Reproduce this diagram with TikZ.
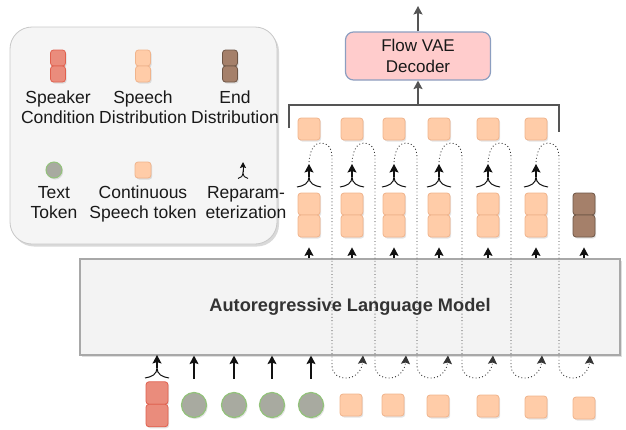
\documentclass[tikz,border=0pt]{standalone}
\usepackage{fontspec}
\setmainfont{Liberation Sans}
\usetikzlibrary{arrows.meta,shadows,calc}
\definecolor{tokfill}{HTML}{FFCCA8}
\definecolor{tokdraw}{HTML}{F0B48C}
\definecolor{spkfill}{HTML}{EA8C7C}
\definecolor{spkdraw}{HTML}{E0604E}
\definecolor{endfill}{HTML}{A5806A}
\definecolor{enddraw}{HTML}{6E5646}
\definecolor{txtfill}{HTML}{A8AAA0}
\definecolor{txtdraw}{HTML}{92C27A}
\definecolor{vaefill}{HTML}{FFCCCC}
\definecolor{vaedraw}{HTML}{8C9EC0}
\definecolor{lmfill}{HTML}{F3F3F3}
\definecolor{lmdraw}{HTML}{A8A8A8}
\definecolor{legfill}{HTML}{F5F5F5}
\definecolor{legdraw}{HTML}{C8C8C8}
\definecolor{ink}{HTML}{111111}
\definecolor{brkcol}{HTML}{555555}
\tikzset{
  shad/.style={drop shadow={opacity=0.22,shadow xshift=1.2pt,shadow yshift=-1.5pt}},
  tokbase/.style={line width=0.8pt, rounded corners=3pt, inner sep=0pt, shad},
  tok/.style={tokbase, draw=tokdraw, fill=tokfill, minimum width=22pt, minimum height=22pt},
  spk/.style={tokbase, draw=spkdraw, fill=spkfill, minimum width=22pt, minimum height=22.5pt},
  enddist/.style={tokbase, draw=enddraw, fill=endfill, minimum width=22pt, minimum height=22pt},
  txttok/.style={circle, draw=txtdraw, fill=txtfill, line width=1.2pt, minimum size=25pt, inner sep=0pt, shad},
  arr/.style={-{Stealth[length=8.5pt,width=9pt,inset=1.5pt]}, line width=1.1pt, draw=ink},
  grayarr/.style={-{Stealth[length=8.5pt,width=9pt,inset=1.5pt]}, line width=1.5pt, draw=brkcol},
  dotarr/.style={-{Stealth[length=8.5pt,width=9pt,inset=1.5pt]}, line width=0.9pt, draw=ink!85, dash pattern=on 0.9pt off 2.4pt},
  lbl/.style={font=\fontsize{17.5}{20}\selectfont, align=center, inner sep=0pt, text=black!90},
  reparam/.pic={
    \draw[line width=1pt, draw=ink] (-12,0) .. controls (-5,-1) and (0,-4) .. (0,-10)
          .. controls (0,-4) and (5,-1) .. (12,0);
    \draw[arr] (0,-10) -- (0,-23);
  }
}
\begin{document}
\begin{tikzpicture}[x=1pt,y=-1pt]
\useasboundingbox (0,0) rectangle (626,429);

% ---------------- legend ----------------
\node[draw=legdraw, fill=legfill, line width=0.8pt, rounded corners=22pt,
      minimum width=267pt, minimum height=217pt,
      drop shadow={opacity=0.3,shadow xshift=2pt,shadow yshift=-2.5pt}] (leg) at (143.5,135.5) {};
% icons
\node[tokbase, draw=spkdraw, fill=spkfill, minimum width=15pt, minimum height=16pt] (lspa) at (58,58) {};
\node[tokbase, draw=spkdraw, fill=spkfill, minimum width=15pt, minimum height=16pt] (lspb) at (58,74) {};
\node[tokbase, draw=tokdraw, fill=tokfill, minimum width=15pt, minimum height=16pt] (lsda) at (143,58) {};
\node[tokbase, draw=tokdraw, fill=tokfill, minimum width=15pt, minimum height=16pt] (lsdb) at (143,74) {};
\node[tokbase, draw=enddraw, fill=endfill, minimum width=15pt, minimum height=16pt] (lena) at (230,58) {};
\node[tokbase, draw=enddraw, fill=endfill, minimum width=15pt, minimum height=16pt] (lenb) at (230,74) {};
\node[lbl] (lspt) at (58,107) {Speaker\\Condition};
\node[lbl] (lsdt) at (143,107) {Speech\\Distribution};
\node[lbl] (lent) at (235,107) {End\\Distribution};
\node[circle, draw=txtdraw, fill=txtfill, line width=1pt, minimum size=16pt, inner sep=0pt, shad] (ltx) at (54,170) {};
\node[tokbase, draw=tokdraw, fill=tokfill, minimum width=16pt, minimum height=16pt] (lct) at (143,170) {};
\draw[line width=0.9pt, draw=ink] (238,178.5) .. controls (241,178) and (243,176) .. (243,172)
      .. controls (243,176) and (245,178) .. (248,178.5);
\coordinate (lrp) at (243,172);
\draw[-{Stealth[length=6pt,width=6pt,inset=1pt]}, line width=1pt, draw=ink] (lrp) -- ++(0,-10);
\node[lbl] (ltxt) at (54,203) {Text\\Token};
\node[lbl] (lctt) at (143,204) {Continuous\\Speech token};
\node[lbl] (lrpt) at (246,203) {Reparam-\\eterization};

% ---------------- language model ----------------
\node[draw=lmdraw, fill=lmfill, line width=1.2pt, minimum width=540pt, minimum height=96pt,
      inner sep=0pt, drop shadow={opacity=0.25,shadow xshift=1.5pt,shadow yshift=-2pt},
      font=\fontsize{18.2}{20}\selectfont\bfseries, text=black!80] (lm) at (350,307)
      {Autoregressive Language Model};

% ---------------- decoder ----------------
\node[draw=vaedraw, fill=vaefill, line width=1.2pt, rounded corners=8pt, minimum width=145pt,
      minimum height=48pt, align=center, font=\fontsize{17}{21}\selectfont, text=black!90] (vae) at (418,56)
      {Flow VAE\\Decoder};
\coordinate (out) at (418,6);
\draw[grayarr] (vae.north) -- (out);

% bracket
\coordinate (bl) at (289,128);
\coordinate (br) at (559,132);
\coordinate (bm) at (418,105);
\draw[brkcol, line width=1.5pt] (bl) -- (bl |- bm) -- (br |- bm) -- (br);
\draw[grayarr] (bm) -- (vae.south);

% ---------------- speech columns ----------------
\foreach \i/\x in {1/309,2/352,3/394,4/439,5/488,6/536} {
  \node[tok] (t\i) at (\x,129) {};
  \node[tok] (da\i) at (\x,204) {};
  \node[tok] (db\i) at (\x,226) {};
  \pic at (\x,187) {reparam};
  \coordinate (rt\i) at (\x,162);
  \coordinate (li\i) at ({\x+54},355.5);
  \draw[arr, shorten >=10pt] (lm.north -| db\i) -- (db\i.south);
  \draw[dotarr] (rt\i) .. controls ({\x+1},150) and ({\x+5},143) .. ({\x+12},143)
       .. controls ({\x+19},143) and ({\x+23},148) .. ({\x+23},158) -- ({\x+23},365)
       .. controls ({\x+23},374) and ({\x+29},378) .. ({\x+37},378)
       .. controls ({\x+46},378) and ({\x+53},371) .. (li\i);
}
\node[enddist] (ea) at (584,204) {};
\node[enddist] (eb) at (584,226) {};
\draw[arr, shorten >=10pt] (lm.north -| eb) -- (eb.south);

% ---------------- inputs ----------------
\node[spk] (sa) at (157,393) {};
\node[spk] (sb) at (157,415.5) {};
\pic at (157,378) {reparam};
\foreach \i/\x in {1/194,2/234,3/272,4/311} {
  \node[txttok] (c\i) at (\x,405) {};
  \draw[arr, shorten <=13pt] (c\i.north) -- (lm.south -| c\i);
}
\foreach \i/\x/\y in {1/351/405,2/393/405,3/438/406,4/488/406,5/536/407,6/584/408} {
  \node[tok] (b\i) at (\x,\y) {};
}
\end{tikzpicture}
\end{document}
